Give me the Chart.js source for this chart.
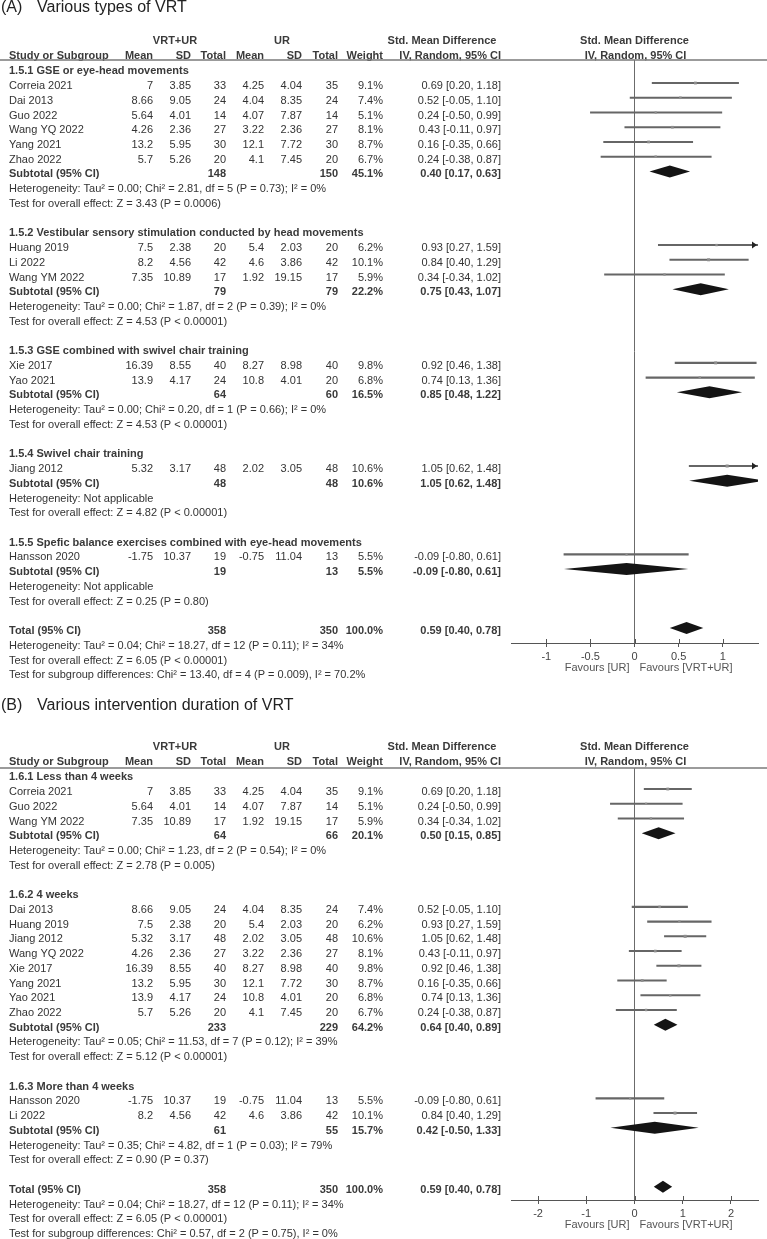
<!DOCTYPE html>
<html>
<head>
<meta charset="utf-8">
<script src="https://cdn.jsdelivr.net/npm/chart.js@4.4.1/dist/chart.umd.min.js"></script>
<style>
  html, body { margin: 0; padding: 0; background: #fff; }
  #wrap { position: relative; width: 767px; height: 1239px; overflow: hidden; }
  canvas { position: absolute; left: 0; }
  #panelA { top: 0; width: 767px; height: 695px; }
  #panelB { top: 695px; width: 767px; height: 544px; }
</style>
</head>
<body>
<div id="wrap">
  <canvas id="panelA" width="767" height="695"></canvas>
  <canvas id="panelB" width="767" height="544"></canvas>
</div>
<script>
// ---------------------------------------------------------------------------
// Study data (shared by both panels)
// ---------------------------------------------------------------------------
const STUDIES = ['Correia 2021', 'Dai 2013', 'Guo 2022', 'Wang YQ 2022', 'Yang 2021', 'Zhao 2022',
  'Huang 2019', 'Li 2022', 'Wang YM 2022', 'Xie 2017', 'Yao 2021', 'Jiang 2012', 'Hansson 2020'];
const VRT_MEAN = [7, 8.66, 5.64, 4.26, 13.2, 5.7, 7.5, 8.2, 7.35, 16.39, 13.9, 5.32, -1.75];
const VRT_SD = [3.85, 9.05, 4.01, 2.36, 5.95, 5.26, 2.38, 4.56, 10.89, 8.55, 4.17, 3.17, 10.37];
const VRT_N = [33, 24, 14, 27, 30, 20, 20, 42, 17, 40, 24, 48, 19];
const UR_MEAN = [4.25, 4.04, 4.07, 3.22, 12.1, 4.1, 5.4, 4.6, 1.92, 8.27, 10.8, 2.02, -0.75];
const UR_SD = [4.04, 8.35, 7.87, 2.36, 7.72, 7.45, 2.03, 3.86, 19.15, 8.98, 4.01, 3.05, 11.04];
const UR_N = [35, 24, 14, 27, 30, 20, 20, 42, 17, 40, 20, 48, 13];
const WEIGHT = [9.1, 7.4, 5.1, 8.1, 8.7, 6.7, 6.2, 10.1, 5.9, 9.8, 6.8, 10.6, 5.5];
const SMD = [0.69, 0.52, 0.24, 0.43, 0.16, 0.24, 0.93, 0.84, 0.34, 0.92, 0.74, 1.05, -0.09];
const CI_LOW = [0.20, -0.05, -0.50, -0.11, -0.35, -0.38, 0.27, 0.40, -0.34, 0.46, 0.13, 0.62, -0.80];
const CI_HIGH = [1.18, 1.10, 0.99, 0.97, 0.66, 0.87, 1.59, 1.29, 1.02, 1.38, 1.36, 1.48, 0.61];

// Overall pooled result (same in both panels)
const TOTAL_N = [358, 350];
const TOTAL_SMD = [0.59, 0.40, 0.78];
const TOTAL_HET = 'Heterogeneity: Tau² = 0.04; Chi² = 18.27, df = 12 (P = 0.11); I² = 34%';
const TOTAL_Z = 'Test for overall effect: Z = 6.05 (P < 0.00001)';

// ---------------------------------------------------------------------------
// Panel A: various types of VRT
// ---------------------------------------------------------------------------
const GROUPS_A = ['1.5.1 GSE or eye-head movements',
  '1.5.2 Vestibular sensory stimulation conducted by head movements',
  '1.5.3 GSE combined with swivel chair training',
  '1.5.4 Swivel chair training',
  '1.5.5 Spefic balance exercises combined with eye-head movements'];
const MEMBERS_A = [
  ['Correia 2021', 'Dai 2013', 'Guo 2022', 'Wang YQ 2022', 'Yang 2021', 'Zhao 2022'],
  ['Huang 2019', 'Li 2022', 'Wang YM 2022'],
  ['Xie 2017', 'Yao 2021'],
  ['Jiang 2012'],
  ['Hansson 2020']];
const SUB_VRT_N_A = [148, 79, 64, 48, 19];
const SUB_UR_N_A = [150, 79, 60, 48, 13];
const SUB_WEIGHT_A = [45.1, 22.2, 16.5, 10.6, 5.5];
const SUB_SMD_A = [0.40, 0.75, 0.85, 1.05, -0.09];
const SUB_LOW_A = [0.17, 0.43, 0.48, 0.62, -0.80];
const SUB_HIGH_A = [0.63, 1.07, 1.22, 1.48, 0.61];
const SUB_HET_A = [
  'Heterogeneity: Tau² = 0.00; Chi² = 2.81, df = 5 (P = 0.73); I² = 0%',
  'Heterogeneity: Tau² = 0.00; Chi² = 1.87, df = 2 (P = 0.39); I² = 0%',
  'Heterogeneity: Tau² = 0.00; Chi² = 0.20, df = 1 (P = 0.66); I² = 0%',
  'Heterogeneity: Not applicable',
  'Heterogeneity: Not applicable'];
const SUB_Z_A = [
  'Test for overall effect: Z = 3.43 (P = 0.0006)',
  'Test for overall effect: Z = 4.53 (P < 0.00001)',
  'Test for overall effect: Z = 4.53 (P < 0.00001)',
  'Test for overall effect: Z = 4.82 (P < 0.00001)',
  'Test for overall effect: Z = 0.25 (P = 0.80)'];
const SUBGROUP_TEST_A = 'Test for subgroup differences: Chi² = 13.40, df = 4 (P = 0.009), I² = 70.2%';
const TICKS_A = [-1, -0.5, 0, 0.5, 1];

// ---------------------------------------------------------------------------
// Panel B: various intervention duration of VRT
// ---------------------------------------------------------------------------
const GROUPS_B = ['1.6.1 Less than 4 weeks', '1.6.2 4 weeks', '1.6.3 More than 4 weeks'];
const MEMBERS_B = [
  ['Correia 2021', 'Guo 2022', 'Wang YM 2022'],
  ['Dai 2013', 'Huang 2019', 'Jiang 2012', 'Wang YQ 2022', 'Xie 2017', 'Yang 2021', 'Yao 2021', 'Zhao 2022'],
  ['Hansson 2020', 'Li 2022']];
const SUB_VRT_N_B = [64, 233, 61];
const SUB_UR_N_B = [66, 229, 55];
const SUB_WEIGHT_B = [20.1, 64.2, 15.7];
const SUB_SMD_B = [0.50, 0.64, 0.42];
const SUB_LOW_B = [0.15, 0.40, -0.50];
const SUB_HIGH_B = [0.85, 0.89, 1.33];
const SUB_HET_B = [
  'Heterogeneity: Tau² = 0.00; Chi² = 1.23, df = 2 (P = 0.54); I² = 0%',
  'Heterogeneity: Tau² = 0.05; Chi² = 11.53, df = 7 (P = 0.12); I² = 39%',
  'Heterogeneity: Tau² = 0.35; Chi² = 4.82, df = 1 (P = 0.03); I² = 79%'];
const SUB_Z_B = [
  'Test for overall effect: Z = 2.78 (P = 0.005)',
  'Test for overall effect: Z = 5.12 (P < 0.00001)',
  'Test for overall effect: Z = 0.90 (P = 0.37)'];
const SUBGROUP_TEST_B = 'Test for subgroup differences: Chi² = 0.57, df = 2 (P = 0.75), I² = 0%';
const TICKS_B = [-2, -1, 0, 1, 2];

// ---------------------------------------------------------------------------
// Layout
// ---------------------------------------------------------------------------
const FONT = '"Liberation Sans", Arial, sans-serif';
const ROW_H = 14.73;
const TEXT_DY = 3;
const COL = { name: 9, vrtMean: 153, vrtSd: 191, vrtN: 226, urMean: 264, urSd: 302,
  urN: 338, weight: 383, ci: 501, smdHead: 442, vrtHead: 175, urHead: 282 };
const TEXT = '#333';
const BOLD = '#3a3a3a';

const PANELS = [
  { canvas: 'panelA', letter: '(A)', title: 'Various types of VRT', titleY: 8,
    top: 60, axisY: 643, row0: 68.3, height: 695, xMin: -1.4, xMax: 1.4, ticks: TICKS_A,
    groups: GROUPS_A, members: MEMBERS_A, subVrtN: SUB_VRT_N_A, subUrN: SUB_UR_N_A,
    subWeight: SUB_WEIGHT_A, subSmd: SUB_SMD_A, subLow: SUB_LOW_A, subHigh: SUB_HIGH_A,
    subHet: SUB_HET_A, subZ: SUB_Z_A, subgroupTest: SUBGROUP_TEST_A },
  { canvas: 'panelB', letter: '(B)', title: 'Various intervention duration of VRT', titleY: 11,
    top: 73, axisY: 505, row0: 79.3, height: 544, xMin: -2.56, xMax: 2.56, ticks: TICKS_B,
    groups: GROUPS_B, members: MEMBERS_B, subVrtN: SUB_VRT_N_B, subUrN: SUB_UR_N_B,
    subWeight: SUB_WEIGHT_B, subSmd: SUB_SMD_B, subLow: SUB_LOW_B, subHigh: SUB_HIGH_B,
    subHet: SUB_HET_B, subZ: SUB_Z_B, subgroupTest: SUBGROUP_TEST_B }
];

// ---------------------------------------------------------------------------
// Helpers
// ---------------------------------------------------------------------------
function fmtCI(est, lo, hi) {
  return `${est.toFixed(2)} [${lo.toFixed(2)}, ${hi.toFixed(2)}]`;
}

function text(ctx, s, x, y, align, opts = {}) {
  ctx.font = `${opts.bold ? 'bold ' : ''}${opts.size || 11}px ${FONT}`;
  ctx.fillStyle = opts.color || (opts.bold ? BOLD : TEXT);
  ctx.textAlign = align;
  ctx.textBaseline = 'middle';
  ctx.fillText(s, x, y);
}

// Row list: one entry per text line of the table, k = row index
function buildRows(p) {
  const rows = [];
  let k = 0;
  p.groups.forEach((title, g) => {
    rows.push({ k: k++, kind: 'group', text: title });
    p.members[g].forEach(name => rows.push({ k: k++, kind: 'study', i: STUDIES.indexOf(name) }));
    rows.push({ k: k++, kind: 'subtotal', label: 'Subtotal (95% CI)',
      n1: p.subVrtN[g], n2: p.subUrN[g], w: p.subWeight[g],
      est: p.subSmd[g], lo: p.subLow[g], hi: p.subHigh[g] });
    rows.push({ k: k++, kind: 'note', text: p.subHet[g] });
    rows.push({ k: k++, kind: 'note', text: p.subZ[g] });
    k++;
  });
  rows.push({ k: k++, kind: 'subtotal', label: 'Total (95% CI)',
    n1: TOTAL_N[0], n2: TOTAL_N[1], w: 100,
    est: TOTAL_SMD[0], lo: TOTAL_SMD[1], hi: TOTAL_SMD[2] });
  rows.push({ k: k++, kind: 'note', text: TOTAL_HET });
  rows.push({ k: k++, kind: 'note', text: TOTAL_Z });
  rows.push({ k: k++, kind: 'note', text: p.subgroupTest });
  return rows;
}

// ---------------------------------------------------------------------------
// Panel
// ---------------------------------------------------------------------------
function makePanel(p) {
  const rows = buildRows(p);
  const studyRows = rows.filter(r => r.kind === 'study');
  const diamondRows = rows.filter(r => r.kind === 'subtotal');

  const yMin = (p.top - p.row0) / ROW_H;
  const yMax = (p.axisY - p.row0) / ROW_H;

  // diamonds + arrowheads for CIs running off the scale
  const marks = {
    id: 'forestMarks',
    afterDatasetsDraw(chart) {
      const { ctx, chartArea: a } = chart;
      const xs = chart.scales.x, ys = chart.scales.y;
      ctx.save();
      ctx.beginPath();
      ctx.rect(a.left, a.top, a.right - a.left, a.bottom - a.top);
      ctx.clip();
      ctx.fillStyle = '#141414';
      diamondRows.forEach(r => {
        const y = ys.getPixelForValue(r.k);
        const xl = xs.getPixelForValue(r.lo), xc = xs.getPixelForValue(r.est), xr = xs.getPixelForValue(r.hi);
        ctx.beginPath();
        ctx.moveTo(xl, y);
        ctx.lineTo(xc, y - 6);
        ctx.lineTo(xr, y);
        ctx.lineTo(xc, y + 6);
        ctx.closePath();
        ctx.fill();
      });
      ctx.restore();

      ctx.save();
      ctx.fillStyle = '#222';
      studyRows.forEach(r => {
        const y = ys.getPixelForValue(r.k);
        if (CI_HIGH[r.i] > p.xMax) {
          ctx.beginPath();
          ctx.moveTo(a.right - 6, y - 3.5);
          ctx.lineTo(a.right - 1, y);
          ctx.lineTo(a.right - 6, y + 3.5);
          ctx.closePath();
          ctx.fill();
        }
        if (CI_LOW[r.i] < p.xMin) {
          ctx.beginPath();
          ctx.moveTo(a.left + 6, y - 3.5);
          ctx.lineTo(a.left + 1, y);
          ctx.lineTo(a.left + 6, y + 3.5);
          ctx.closePath();
          ctx.fill();
        }
      });
      ctx.restore();
    }
  };

  // table text, headings, header rule, axis captions
  const table = {
    id: 'forestTable',
    afterDraw(chart) {
      const { ctx, chartArea: a } = chart;
      const xs = chart.scales.x, ys = chart.scales.y;
      const rowY = k => ys.getPixelForValue(k) + TEXT_DY;
      ctx.save();

      text(ctx, p.letter, 1, p.titleY, 'left', { size: 16, color: '#222' });
      text(ctx, p.title, 37, p.titleY, 'left', { size: 16, color: '#222' });

      // column headers
      const h1 = rowY(-2.07), h2 = rowY(-1.07);
      const zeroX = xs.getPixelForValue(0);
      const hb = { bold: true };
      text(ctx, 'VRT+UR', COL.vrtHead, h1, 'center', hb);
      text(ctx, 'UR', COL.urHead, h1, 'center', hb);
      text(ctx, 'Std. Mean Difference', COL.smdHead, h1, 'center', hb);
      text(ctx, 'Std. Mean Difference', zeroX, h1, 'center', hb);
      text(ctx, 'Study or Subgroup', COL.name, h2, 'left', hb);
      text(ctx, 'Mean', COL.vrtMean, h2, 'right', hb);
      text(ctx, 'SD', COL.vrtSd, h2, 'right', hb);
      text(ctx, 'Total', COL.vrtN, h2, 'right', hb);
      text(ctx, 'Mean', COL.urMean, h2, 'right', hb);
      text(ctx, 'SD', COL.urSd, h2, 'right', hb);
      text(ctx, 'Total', COL.urN, h2, 'right', hb);
      text(ctx, 'Weight', COL.weight, h2, 'right', hb);
      text(ctx, 'IV, Random, 95% CI', COL.ci, h2, 'right', hb);
      text(ctx, 'IV, Random, 95% CI', zeroX + 1, h2, 'center', hb);

      ctx.strokeStyle = '#7a7a7a';
      ctx.lineWidth = 1.5;
      ctx.beginPath();
      ctx.moveTo(0, a.top);
      ctx.lineTo(chart.width, a.top);
      ctx.stroke();

      rows.forEach(r => {
        const y = rowY(r.k);
        if (r.kind === 'group') {
          text(ctx, r.text, COL.name, y, 'left', { bold: true });
        } else if (r.kind === 'note') {
          text(ctx, r.text, COL.name, y, 'left');
        } else if (r.kind === 'study') {
          const i = r.i;
          text(ctx, STUDIES[i], COL.name, y, 'left');
          text(ctx, String(VRT_MEAN[i]), COL.vrtMean, y, 'right');
          text(ctx, VRT_SD[i].toFixed(2), COL.vrtSd, y, 'right');
          text(ctx, String(VRT_N[i]), COL.vrtN, y, 'right');
          text(ctx, String(UR_MEAN[i]), COL.urMean, y, 'right');
          text(ctx, UR_SD[i].toFixed(2), COL.urSd, y, 'right');
          text(ctx, String(UR_N[i]), COL.urN, y, 'right');
          text(ctx, WEIGHT[i].toFixed(1) + '%', COL.weight, y, 'right');
          text(ctx, fmtCI(SMD[i], CI_LOW[i], CI_HIGH[i]), COL.ci, y, 'right');
        } else if (r.kind === 'subtotal') {
          const b = { bold: true };
          text(ctx, r.label, COL.name, y, 'left', b);
          text(ctx, String(r.n1), COL.vrtN, y, 'right', b);
          text(ctx, String(r.n2), COL.urN, y, 'right', b);
          text(ctx, r.w.toFixed(1) + '%', COL.weight, y, 'right', b);
          text(ctx, fmtCI(r.est, r.lo, r.hi), COL.ci, y, 'right', b);
        }
      });

      // tick marks cross the axis line: add the upper half
      ctx.strokeStyle = '#555';
      ctx.lineWidth = 1;
      xs.ticks.forEach(t => {
        const x = Math.round(xs.getPixelForValue(t.value)) + 0.5;
        ctx.beginPath();
        ctx.moveTo(x, a.bottom - 4);
        ctx.lineTo(x, a.bottom);
        ctx.stroke();
      });

      const fy = a.bottom + 25;
      text(ctx, 'Favours [UR]', zeroX - 5, fy, 'right', { color: '#555' });
      text(ctx, 'Favours [VRT+UR]', zeroX + 5, fy, 'left', { color: '#555' });
      ctx.restore();
    }
  };

  return new Chart(document.getElementById(p.canvas), {
    type: 'bar',
    data: {
      datasets: [
        {
          // 95% CI whiskers as floating horizontal bars
          type: 'bar',
          indexAxis: 'y',
          data: studyRows.map(r => ({ x: [CI_LOW[r.i], CI_HIGH[r.i]], y: r.k })),
          backgroundColor: '#666',
          borderWidth: 0,
          barThickness: 1.4,
          order: 2
        },
        {
          // point estimates, square size by weight
          type: 'scatter',
          data: studyRows.map(r => ({ x: SMD[r.i], y: r.k })),
          pointStyle: 'rect',
          pointRadius: studyRows.map(r => 1 + WEIGHT[r.i] * 0.11),
          backgroundColor: '#8e8e8e',
          borderColor: '#8e8e8e',
          borderWidth: 0,
          order: 1
        }
      ]
    },
    options: {
      responsive: false,
      animation: false,
      events: [],
      indexAxis: 'y',
      layout: { padding: { left: 511, right: 9, top: p.top, bottom: 0 } },
      plugins: { legend: { display: false }, tooltip: { enabled: false } },
      scales: {
        x: {
          type: 'linear',
          position: 'bottom',
          offset: false,
          beginAtZero: false,
          min: p.xMin,
          max: p.xMax,
          afterBuildTicks: s => { s.ticks = p.ticks.map(v => ({ value: v })); },
          afterFit: s => { s.height = p.height - p.axisY; },
          grid: {
            offset: false,
            color: c => (c.tick && c.tick.value === 0 ? '#6b6b6b' : 'rgba(0,0,0,0)'),
            tickColor: '#555',
            tickLength: 4,
            lineWidth: 1
          },
          border: { display: true, color: '#555', width: 1 },
          ticks: {
            font: { family: FONT, size: 11 },
            color: '#444',
            padding: 3,
            maxRotation: 0,
            callback: v => String(v)
          }
        },
        y: {
          type: 'linear',
          display: false,
          offset: false,
          beginAtZero: false,
          grid: { offset: false },
          reverse: true,
          min: yMin,
          max: yMax
        }
      }
    },
    plugins: [marks, table]
  });
}

PANELS.forEach(makePanel);
</script>
</body>
</html>
